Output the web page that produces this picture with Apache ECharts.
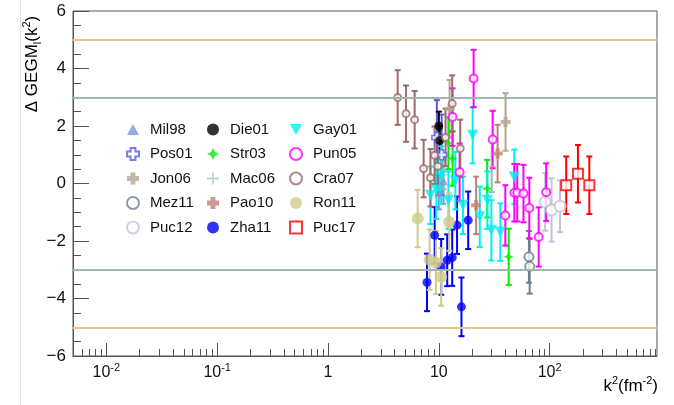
<!DOCTYPE html>
<html>
	<head>
		<meta charset="utf-8" />
		<title>GEGM</title>
		<script src="https://cdn.jsdelivr.net/npm/echarts@6/dist/echarts.min.js"></script>
	</head>
	<body style="margin:0;background:#fff;">
		<div id="main" style="width:674px;height:405px;"></div>
	</body>
	<script type="text/javascript">
	// [k2, delta, error]
	var mil98 = [[10.0, -0.3, 0.6], [11.0, 0.1, 0.8]];
	var pos01 = [[9.6, 1.6, 1.3], [10.6, 1.0, 1.4]];
	var jon06 = [[40, 2.14, 1.0], [12.5, 2.6, 1.0]];
	var mez11 = [[65, -2.55, 0.9], [66, -2.88, 0.95]];
	var puc12 = [[91, -0.64, 1.0], [104, -0.92, 1.1], [124, -0.79, 0.9]];
	var die01 = [[10.2, 1.5, 0.5], [10.0, 2.0, 0.5]];
	var str03 = [[12.2, 1.4, 0.9], [13.3, 0.87, 0.95], [27.3, -0.18, 1.0], [42.7, -2.55, 0.98]];
	var mac06 = [[11, 0.3, 0.5], [30, 0.6, 0.9]];
	var pao10 = [[21.7, -0.76, 1.0], [33.9, 1.04, 1.0]];
	var zha11 = [[7.82, -3.44, 1.0], [9.17, -1.8, 0.98], [10.5, -2.9, 0.97], [11.9, -2.67, 0.9],
		[13.2, -2.58, 0.98], [14.6, -1.45, 1.0], [16.0, -4.29, 1.02], [18.4, -1.28, 1.0]];
	var gay01 = [[8.4, -0.41, 1.0], [9.5, -0.23, 1.0], [10.5, 0.29, 1.0], [12.2, -0.58, 1.0], [14.1, 0.1, 1.0],
		[16.5, -0.76, 1.0], [20.2, 1.68, 0.98], [23.4, -1.16, 1.05], [27.4, -0.58, 1.0], [29.8, -1.63, 1.05],
		[35.9, -1.69, 1.0], [48, 0.23, 0.95]];
	var pun05 = [[13.3, 2.31, 1.0], [15.4, 0.39, 1.0], [20.6, 3.65, 1.0], [30.6, 1.53, 1.0], [39.8, -1.11, 1.05],
		[48, -0.32, 1.0], [51, -0.32, 1.0], [58, -0.35, 1.0], [65.5, -0.85, 1.05], [79.6, -1.86, 1.03], [93, -0.3, 1.0]];
	var cra07 = [[4.25, 2.99, 0.95], [5.06, 2.43, 0.98], [6.05, 2.22, 1.0], [7.29, 0.52, 1.0], [8.4, 0.2, 1.0],
		[9.16, 0.98, 1.0], [9.8, 0.6, 1.0], [11.5, 1.6, 1.0], [13.2, 2.78, 0.98], [15.6, 1.22, 1.0]];
	var ron11 = [[6.44, -1.22, 1.0], [8.26, -2.65, 1.05], [9.4, -2.75, 1.1], [10.5, -3.25, 1.0], [12.4, -1.34, 1.0]];
	var puc17 = [[141, -0.06, 1.0], [180, 0.34, 1.0], [228, -0.06, 1.0]];

	var xLabelValues = [0.01, 0.1, 1, 10, 100];
	var yLines = [5, 3, -3, -5];

	var font = 'Liberation Sans, Arial, sans-serif';
	var plusFill = 'path://M3,0H7V3H10V7H7V10H3V7H0V3H3Z';
	var plusThin = 'path://M4.4,0H5.6V4.4H10V5.6H5.6V10H4.4V5.6H0V4.4H4.4Z';
	var triDown = 'path://M0,0H10L5,9Z';
	var triUp = 'path://M5,0L10,9H0Z';
	var star4 = 'path://M5,0L6.6,3.4L10,5L6.6,6.6L5,10L3.4,6.6L0,5L3.4,3.4Z';

	// name, data, color, symbol, size, open
	var sets = [
		['Mil98', mil98, '#7b9ad8', triUp, 9, false],
		['Pos01', pos01, '#5a5ae6', plusFill, 10, true],
		['Jon06', jon06, '#b5a48f', plusFill, 10, false],
		['Mez11', mez11, '#6e7f8e', 'emptyCircle', 9, false],
		['Puc12', puc12, '#c4c4dc', 'emptyCircle', 11, false],
		['Die01', die01, '#000000', 'circle', 9, false],
		['Str03', str03, '#00ee00', star4, 10, false],
		['Mac06', mac06, '#8fc4aa', plusThin, 10, false],
		['Pao10', pao10, '#c08070', plusFill, 10, false],
		['Zha11', zha11, '#0000ff', 'circle', 9, false],
		['Gay01', gay01, '#00f0f0', triDown, 11, false],
		['Pun05', pun05, '#ff00ff', 'emptyCircle', 8, false],
		['Cra07', cra07, '#9c6b6b', 'emptyCircle', 7, false],
		['Ron11', ron11, '#cfc98a', 'circle', 12, false],
		['Puc17', puc17, '#ff0000', 'emptyRect', 10, false]
	];

	var xMinor = [];
	for (var d = -3; d <= 2; d++) {
		for (var m = 2; m <= 9; m++) {
			var v = +(m * Math.pow(10, d)).toPrecision(3);
			if (v > 0.005 && v < 930) xMinor.push(v);
		}
	}

	function errBar(params, api) {
		var x = api.value(0), y = api.value(1), e = api.value(2);
		var top = api.coord([x, y + e]);
		var bot = api.coord([x, y - e]);
		var c = api.visual('color');
		var st = {stroke: c, lineWidth: 2};
		return {
			type: 'group',
			children: [
				{type: 'line', shape: {x1: top[0], y1: top[1], x2: bot[0], y2: bot[1]}, style: st},
				{type: 'line', shape: {x1: top[0] - 3, y1: top[1], x2: top[0] + 3, y2: top[1]}, style: st},
				{type: 'line', shape: {x1: bot[0] - 3, y1: bot[1], x2: bot[0] + 3, y2: bot[1]}, style: st}
			]
		};
	}

	var series = [];
	// reference lines
	series.push({
		type: 'line', data: [], silent: true,
		markLine: {
			symbol: 'none', silent: true, label: {show: false}, animation: false,
			data: yLines.map(function (v) {
				return {yAxis: v, lineStyle: {type: 'solid', width: 2, color: Math.abs(v) == 5 ? '#e8c595' : '#9db8aa'}};
			})
		}
	});
	sets.forEach(function (s) {
		series.push({
			type: 'custom', renderItem: errBar, data: s[1], silent: true,
			itemStyle: {color: s[2]}, z: 2
		});
	});
	sets.forEach(function (s) {
		var st = {color: s[2]};
		if (s[5]) st = {color: '#fff', borderColor: s[2], borderWidth: 1.6};
		if (s[3].indexOf('empty') === 0) st = {color: s[2], borderWidth: 2};
		series.push({
			name: s[0], type: 'scatter', data: s[1], symbol: s[3], symbolSize: s[4],
			itemStyle: st, z: 3
		});
	});

	var rich = {
		sup: {fontSize: 11, fontFamily: font, verticalAlign: 'top', lineHeight: 11, color: '#111'},
		sub: {fontSize: 11, fontFamily: font, verticalAlign: 'bottom', lineHeight: 11, color: '#111'},
		t: {fontSize: 17, fontFamily: font, lineHeight: 22, color: '#111'}
	};

	function legendCol(names, left) {
		return {
			orient: 'vertical', left: left, top: 117, itemGap: 9.5,
			itemWidth: 12, itemHeight: 12, data: names,
			textStyle: {fontSize: 15, fontFamily: font, color: '#111', padding: [0, 0, 0, 6]},
			selectedMode: false
		};
	}

	var myChart = echarts.init(document.getElementById('main'));
	var option = {
		animation: false,
		backgroundColor: '#fff',
		grid: {left: 73, right: 17, top: 11, bottom: 49, show: true, borderColor: '#555', borderWidth: 1},
		legend: [
			legendCol(['Mil98', 'Pos01', 'Jon06', 'Mez11', 'Puc12'], 121),
			legendCol(['Die01', 'Str03', 'Mac06', 'Pao10', 'Zha11'], 202),
			legendCol(['Gay01', 'Pun05', 'Cra07', 'Ron11', 'Puc17'], 284)
		],
		xAxis: [{
			type: 'log', logBase: 10, min: 0.005, max: 930, position: 'bottom',
			axisLine: {onZero: false, lineStyle: {color: '#555'}},
			splitLine: {show: false},
			axisTick: {inside: true, length: 13, customValues: xLabelValues, lineStyle: {color: '#555'}},
			axisLabel: {
				customValues: xLabelValues, margin: 6, fontSize: 16, fontFamily: font, color: '#111', lineHeight: 22,
				formatter: function (v) {
					var p = Math.round(Math.log(v) / Math.LN10);
					if (p === 0) return '1';
					if (p === 1) return '10';
					return '10{sup|' + p + '}';
				},
				rich: rich
			}
		}, {
			type: 'log', logBase: 10, min: 0.005, max: 930, position: 'bottom',
			axisLine: {show: false, onZero: false}, splitLine: {show: false}, axisLabel: {show: false},
			axisTick: {inside: true, length: 7, customValues: xMinor, lineStyle: {color: '#555'}}
		}],
		yAxis: {
			type: 'value', min: -6, max: 6, interval: 2,
			axisLine: {show: true, onZero: false, lineStyle: {color: '#555'}},
			splitLine: {show: false},
			axisTick: {inside: true, length: 16, lineStyle: {color: '#555'}},
			minorTick: {show: true, splitNumber: 4, length: 8, lineStyle: {color: '#555'}},
			axisLabel: {
				margin: 7, fontSize: 17, fontFamily: font, color: '#111',
				formatter: function (v) { return String(v).replace('-', '\u2212'); }
			}
		},
		graphic: [
			{type: 'line', shape: {x1: 20.5, y1: 0, x2: 20.5, y2: 405}, style: {stroke: '#e2e2e2', lineWidth: 1}},
			{
				type: 'text', x: 32, y: 64, rotation: Math.PI / 2,
				style: {text: '{t|Δ GEGM}{sub|l}{t|(k}{sup|2}{t|)}', align: 'center', verticalAlign: 'middle', rich: rich}
			},
			{
				type: 'text', x: 658, y: 386,
				style: {text: '{t|k}{sup|2}{t|(fm}{sup|-2}{t|)}', align: 'right', verticalAlign: 'middle', rich: rich}
			}
		],
		series: series
	};
	myChart.setOption(option);
	</script>
</html>
